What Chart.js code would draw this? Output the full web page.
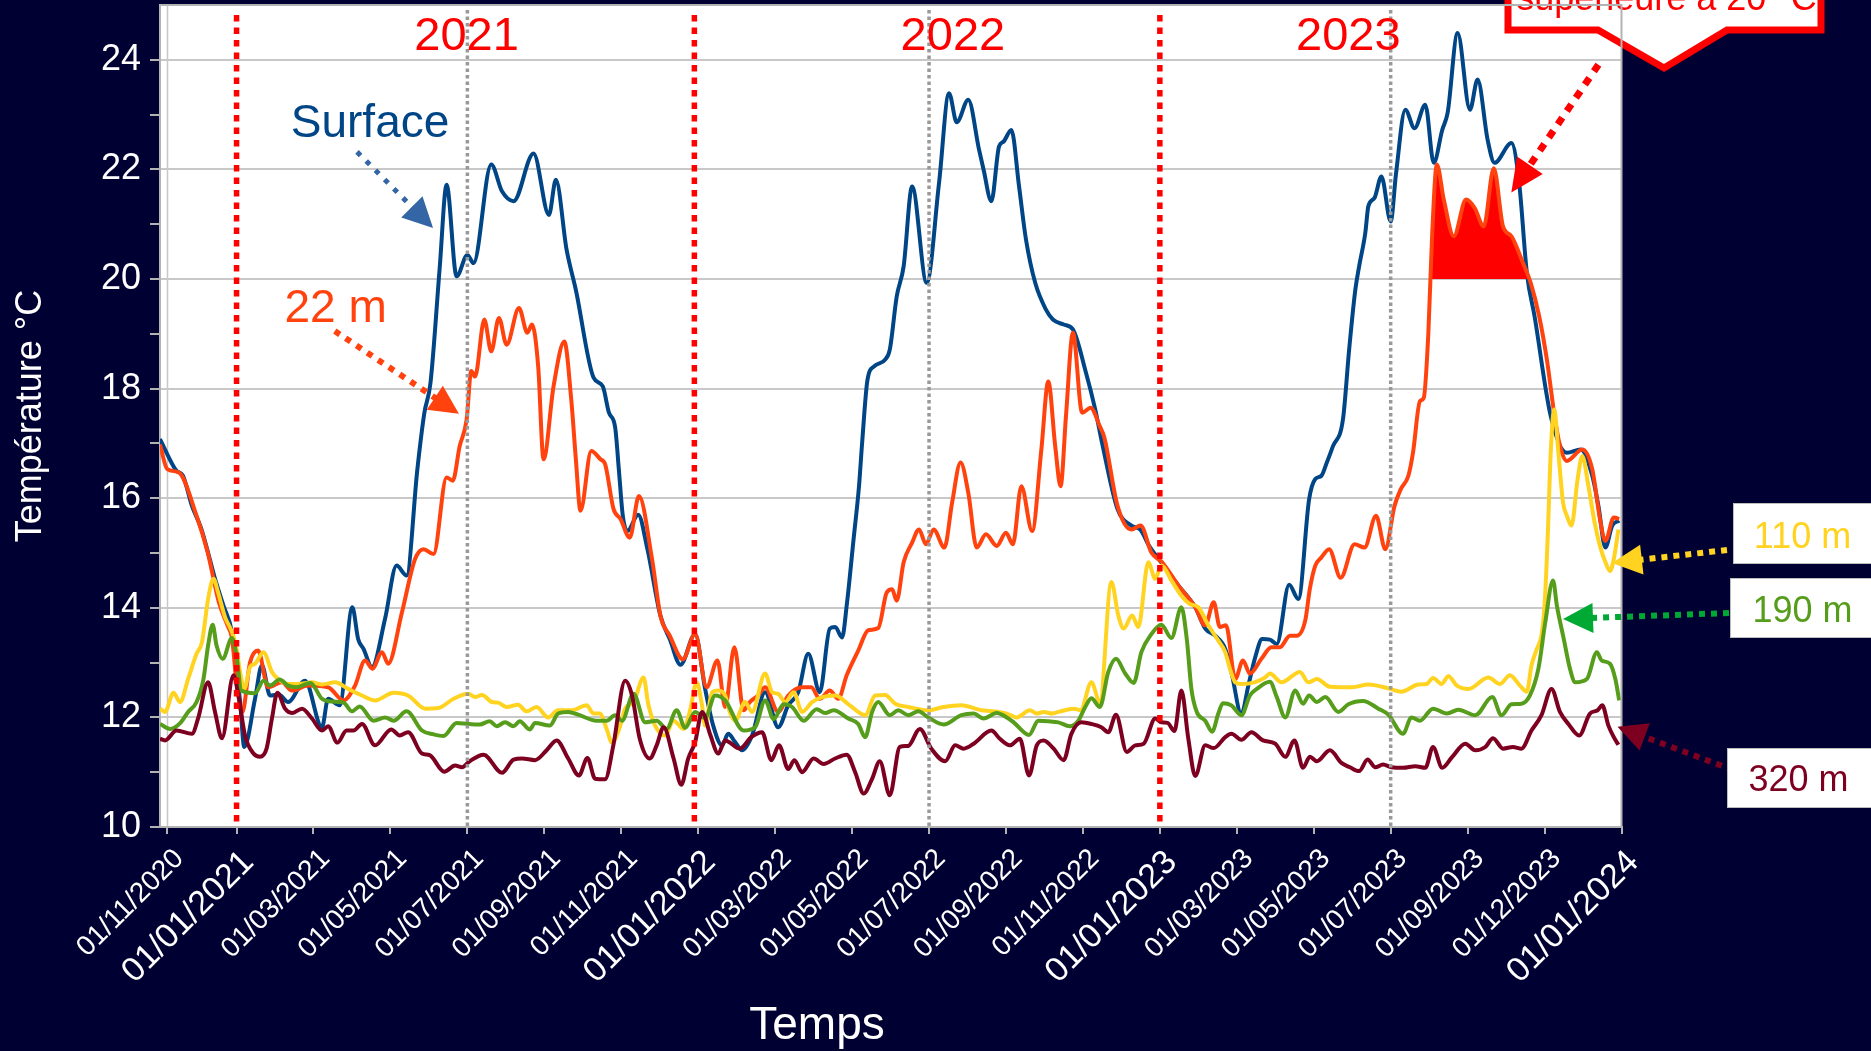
<!DOCTYPE html>
<html lang="fr">
<head>
<meta charset="utf-8">
<title>Température de l'eau de surface à 320 m</title>
<script src="https://cdn.jsdelivr.net/npm/chart.js@4.4.1/dist/chart.umd.min.js"></script>
<style>
  html, body { margin: 0; padding: 0; background: #000033; }
  #wrap { width: 1871px; height: 1051px; }
  canvas { display: block; }
</style>
</head>
<body>
<div id="wrap"><canvas id="chart" width="1871" height="1051"></canvas></div>
<script>
// Horizontal unit: 10 units between two consecutive date labels.
const tickPositions = [-9, 0, 10, 20, 30, 40, 50, 60, 70, 80, 90, 100, 110, 120, 130, 140, 150, 160, 170, 180];
const tickLabels = ['01/11/2020', '01/01/2021', '01/03/2021', '01/05/2021', '01/07/2021', '01/09/2021',
  '01/11/2021', '01/01/2022', '01/03/2022', '01/05/2022', '01/07/2022', '01/09/2022', '01/11/2022',
  '01/01/2023', '01/03/2023', '01/05/2023', '01/07/2023', '01/09/2023', '01/12/2023', '01/01/2024'];
const yTickValues = [10, 11, 12, 13, 14, 15, 16, 17, 18, 19, 20, 21, 22, 23, 24];

// New year (red) and 1st of July (grey) markers
const yearStarts = [0, 59.5, 120];
const midYears = [30, 90, 150];
const yearNames = ['2021', '2022', '2023'];
const yearNameX = [29.9, 93.1, 144.5];
const warmThreshold = 20;

// Temperatures (°C), pairs [position, value]
const surface = [[-9.95,17.08],[-9,16.8],[-7.8,16.5],[-7,16.42],[-5.8,15.86],[-4.6,15.45],[-3.5,14.9],[-2.9,14.58],
  [-1.7,14.04],[-0.6,13.55],[0.45,12.3],[1.0,11.46],[2.4,12.34],[3.3,12.95],[4.35,12.4],[5.5,12.42],[6.7,12.28],
  [8.9,12.67],[11.1,11.82],[11.9,12.34],[13.4,12.22],[15.05,14.01],[15.8,13.43],[16.5,13.25],[17.6,12.92],
  [19.3,13.8],[20.8,14.77],[22.1,14.59],[23.5,16.53],[24.4,17.55],[25.2,18.1],[26.4,20.2],[27.3,21.72],
  [28.6,20.05],[30,20.44],[30.8,20.29],[33.1,22.09],[34.5,21.6],[36,21.42],[38.6,22.29],[40.6,21.17],
  [41.5,21.81],[42.9,20.53],[44.1,19.8],[46.4,18.2],[47.6,18.04],[48.4,17.56],[49.2,17.3],[49.7,16.5],
  [50.2,15.68],[50.8,15.4],[52.2,15.7],[53.4,15.07],[55.1,13.85],[56.3,13.43],[57.7,12.96],[59.6,13.52],
  [60.9,12.52],[61.95,11.85],[63.1,11.49],[63.9,11.7],[64.8,11.55],[65.7,11.4],[67,11.67],[68.7,12.46],
  [70.4,11.82],[71.7,12.22],[73,12.46],[74.3,13.16],[75.8,12.46],[77.1,13.62],[77.8,13.65],[78.7,13.46],
  [79.3,14.04],[80.2,15.26],[80.9,16.22],[81.3,17.0],[82.0,18.16],[82.9,18.41],[84.3,18.53],[84.9,18.71],
  [85.8,19.68],[86.7,20.23],[87.8,21.69],[89.7,19.93],[91.3,21.75],[92.6,23.39],[93.6,22.86],[95.1,23.27],
  [96.5,22.36],[97.1,21.99],[98.1,21.42],[99.1,22.42],[99.7,22.51],[100.7,22.72],[101.7,21.69],[102.6,20.72],
  [103.8,19.93],[105.2,19.44],[106.1,19.26],[107.5,19.17],[108.7,19.08],[110.4,18.29],[111.6,17.62],
  [112.5,17.0],[114.5,15.8],[116.3,15.5],[117.5,15.42],[118.6,15.13],[120,14.86],[122.4,14.41],[124.6,14.01],
  [125.9,13.62],[127.2,13.49],[128.5,13.25],[129.3,12.83],[130.6,12.06],[131.5,12.58],[132.4,13.1],
  [133.3,13.43],[134.3,13.42],[135.2,13.34],[136.8,14.42],[138,14.16],[139.4,15.98],[140.2,16.35],[141,16.41],
  [141.7,16.65],[142.5,16.95],[143.8,17.44],[144.6,18.71],[145.4,19.8],[145.9,20.23],[146.7,20.84],
  [147.1,21.33],[147.9,21.48],[148.8,21.87],[150,21.05],[150.7,21.93],[151.9,23.09],[153.1,22.75],
  [154.5,23.18],[155.6,22.12],[156.7,22.72],[157.4,23.03],[158.7,24.49],[160.3,23.09],[161.3,23.64],
  [162.6,22.54],[163.5,22.12],[165.7,22.48],[166.7,21.75],[167.7,20.11],[168.7,19.32],[170.8,17.5],
  [172.9,16.83],[174.7,16.89],[176.2,16.41],[177,15.86],[177.9,15.1],[178.8,15.5],[179.7,15.59]];

const depth22 = [[-9.95,16.98],[-9,16.53],[-7.5,16.47],[-5.2,15.68],[-3.75,15.01],[-2.3,14.1],[-1.15,13.67],
  [-0.6,13.45],[0,12.64],[0.76,12.1],[1.75,13.0],[2.8,13.22],[4.1,12.55],[5.9,12.64],[7.2,12.49],[9.3,12.58],
  [11.9,12.55],[13.9,12.31],[15.4,12.58],[16.7,13.04],[17.65,12.89],[18.9,13.19],[19.7,12.98],[21.5,13.92],
  [23.2,14.89],[24.3,15.07],[25.6,14.98],[27.3,16.38],[28.1,16.32],[29,16.95],[29.9,17.43],[30.5,18.32],
  [31.0,18.22],[32.2,19.26],[33.1,18.68],[34.1,19.29],[35.1,18.8],[36.7,19.47],[37.8,19.02],[38.4,19.17],
  [39.2,18.41],[39.9,16.71],[41.2,18.04],[42.6,18.86],[43.5,17.8],[44.1,16.71],[44.7,15.77],[46.1,16.86],
  [47.3,16.71],[47.9,16.62],[49.0,15.8],[49.9,15.62],[51.1,15.28],[52.3,16.04],[54.0,14.89],[55.1,13.85],
  [56.3,13.49],[58.0,13.06],[59.6,13.52],[61.1,12.55],[62.5,13.04],[63.5,12.19],[64.7,13.28],[65.9,12.13],
  [66.7,12.28],[67.8,12.4],[68.7,12.55],[70.4,12.1],[71.7,12.4],[73.5,12.55],[74.7,12.55],[75.8,12.34],
  [77.1,12.49],[78.2,12.34],[79.3,12.77],[80.8,13.22],[82.1,13.59],[83.4,13.63],[84.5,14.28],[85.2,14.34],
  [85.8,14.13],[86.7,14.83],[87.8,15.19],[88.7,15.43],[89.6,15.16],[90.6,15.43],[92.0,15.1],[93.0,15.92],
  [94.1,16.65],[95.1,16.1],[96.2,15.1],[97.4,15.34],[98.8,15.13],[100,15.37],[100.9,15.16],[102,16.22],
  [103.4,15.4],[104.6,16.89],[105.5,18.13],[106.4,16.95],[107.1,16.22],[107.8,17.5],[108.7,19.02],
  [109.9,17.56],[111,17.65],[112.2,17.31],[112.8,17.1],[114.5,15.86],[116.3,15.43],[117.5,15.5],[118.9,15.01],
  [120.3,14.83],[122.4,14.41],[124.6,14.01],[125.9,13.68],[127.0,14.1],[127.8,13.65],[128.6,13.68],
  [129.8,12.7],[130.8,13.04],[131.7,12.8],[133.2,13.07],[134.5,13.28],[135.6,13.28],[136.9,13.49],
  [137.8,13.49],[138.9,13.77],[139.5,14.35],[140.2,14.77],[141,14.92],[142,15.07],[143.5,14.55],[145.3,15.16],
  [146.6,15.1],[148.1,15.68],[149.3,15.07],[150.5,15.86],[151.3,16.16],[152.3,16.41],[152.9,16.83],
  [153.8,17.77],[154.3,17.83],[154.9,19.02],[155.4,20.84],[156,22.09],[156.9,21.45],[158.2,20.78],
  [159.8,21.45],[160.9,21.3],[162.1,20.96],[163.4,22.02],[164.6,20.96],[165.7,20.78],[167.2,20.29],
  [168.2,19.93],[169.3,19.32],[170.3,18.53],[171.3,17.5],[171.9,17.02],[172.9,16.68],[174.9,16.89],
  [176.2,16.53],[177.2,15.62],[177.9,15.22],[179.0,15.65],[179.7,15.62]];

const depth110 = [[-9.95,12.16],[-9.3,12.1],[-8.2,12.45],[-7.35,12.28],[-6.3,12.7],[-5.2,13.16],[-4.5,13.37],
  [-3.7,14.16],[-3.0,14.53],[-2.4,14.28],[-1.5,13.83],[-0.6,13.56],[0,13.25],[0.45,12.83],[1.0,12.52],
  [1.75,12.92],[2.4,12.98],[3.5,13.19],[4.6,12.83],[5.4,12.7],[6.7,12.61],[8,12.61],[9.8,12.64],[11.1,12.6],
  [12.8,12.64],[14.5,12.52],[16.3,12.4],[18,12.31],[20.4,12.45],[22.3,12.4],[24.5,12.16],[26.2,12.17],
  [28.2,12.34],[30.1,12.43],[31,12.37],[31.9,12.41],[33.2,12.28],[34,12.27],[35.1,12.19],[36.6,12.23],
  [37.7,12.11],[39,12.19],[40.5,12.0],[41.8,12.13],[43.6,12.13],[45.5,12.22],[46.4,12.07],[47.2,12.07],
  [48.1,11.79],[48.8,11.54],[49.8,11.82],[50.5,12.16],[51.6,12.28],[52.9,12.73],[53.5,12.25],[54.4,11.85],
  [55.7,11.67],[56.8,11.94],[58.1,11.79],[58.9,12.1],[59.8,12.64],[60.5,12.22],[60.9,11.85],[61.8,12.46],
  [62.6,12.49],[63.5,12.4],[64.1,12.1],[64.8,11.94],[66.1,12.28],[67,12.1],[68.7,12.8],[69.6,12.46],
  [70.4,12.43],[71.3,12.28],[72.4,12.46],[73.5,12.1],[74.8,12.28],[76.1,12.37],[77.8,12.4],[79.7,12.22],
  [81.7,12.04],[83,12.4],[84.3,12.41],[85.6,12.25],[87.3,12.19],[89.9,12.13],[91.9,12.19],[94.2,12.22],
  [96.8,12.13],[98.6,12.11],[100.1,12.07],[101.4,12.0],[103.1,12.13],[104,12.07],[104.9,12.1],[106,12.07],
  [106.8,12.1],[108.8,12.16],[109.7,12.13],[111.1,12.64],[112.2,12.28],[113.7,14.47],[114.6,13.86],
  [115.3,13.62],[116.4,13.86],[117.2,13.65],[118.5,14.83],[119.4,14.53],[120.2,14.77],[121.5,14.5],
  [122.8,14.22],[123.9,14.07],[125,14.01],[126.3,13.68],[127.6,13.4],[128.5,13.19],[129.1,12.89],
  [129.8,12.64],[130.6,12.61],[132.3,12.64],[133.7,12.73],[134.3,12.8],[135.8,12.64],[138.2,12.83],
  [139.3,12.64],[140.4,12.7],[142.1,12.56],[145,12.55],[147.1,12.6],[149.7,12.53],[151.4,12.47],[153.6,12.6],
  [154.7,12.61],[155.5,12.72],[156.6,12.61],[157.5,12.75],[158.6,12.58],[160.1,12.52],[162.7,12.73],
  [164.2,12.61],[165.5,12.77],[166.8,12.58],[167.7,12.47],[168.3,12.95],[169,13.25],[169.6,13.5],[170,14.04],
  [170.4,15.26],[170.8,16.83],[171.25,17.62],[171.8,16.83],[172.4,15.92],[172.9,15.68],[173.5,15.5],
  [174.3,16.35],[174.9,16.77],[175.7,16.22],[176.5,15.56],[177.2,15.13],[178,14.8],[178.5,14.67],[179,14.89],
  [179.6,15.43]];

const depth190 = [[-9.95,11.88],[-8.6,11.79],[-7.3,11.9],[-6.3,12.1],[-5.2,12.28],[-4.3,12.7],[-3.7,13.31],
  [-3.1,13.69],[-2.6,13.31],[-1.8,13.07],[-0.6,13.45],[0,13.13],[0.6,12.49],[2.4,12.44],[3.5,12.67],
  [4.35,12.58],[5.6,12.69],[6.7,12.58],[7.8,12.55],[9.6,12.63],[11.1,12.34],[12.4,12.29],[13.9,12.27],
  [15,12.11],[16,12.2],[17.8,11.94],[19.3,12.0],[20.4,11.94],[22.1,12.11],[24.1,11.76],[25.6,11.69],
  [26.9,11.66],[28.6,11.9],[30.1,11.88],[31.6,11.87],[32.9,11.93],[33.8,11.84],[34.9,11.91],[36,11.84],
  [36.8,11.93],[38.1,11.78],[38.8,11.9],[40.7,11.85],[41.8,12.07],[43.1,12.1],[44.4,12.05],[46.8,11.94],
  [48.1,11.94],[49.2,12.04],[50.1,11.94],[51.6,12.43],[53.1,11.91],[54.6,11.94],[55.9,11.79],[57.2,12.13],
  [58.3,11.81],[59.6,12.1],[60.9,11.99],[62.2,12.4],[63.5,12.31],[65.9,11.76],[67.4,11.82],[68.7,12.31],
  [69.8,11.97],[71.1,12.24],[72.2,12.19],[73.7,11.94],[75.4,12.15],[76.5,12.08],[77.6,12.13],[79.5,11.98],
  [80.8,11.88],[81.7,11.64],[82.6,12.1],[83.4,12.28],[84.9,12.04],[86,12.13],[87.3,12.04],[88.6,12.11],
  [89.9,12.0],[91.9,11.87],[94.2,12.04],[95.8,12.07],[97.1,11.98],[98.8,12.08],[100.1,12.0],[101,11.91],
  [103,11.68],[104.2,11.94],[105.5,11.93],[106.8,11.91],[108.3,11.84],[109.4,11.94],[110.3,12.19],
  [111.1,12.35],[112.2,12.19],[113.3,12.83],[114.3,13.07],[115.5,12.8],[116.6,12.63],[117.6,13.19],
  [118.9,13.52],[120.2,13.69],[121.5,13.45],[122.8,14.01],[123.5,13.43],[124.1,12.52],[124.8,12.1],
  [125.9,11.94],[126.8,11.74],[127.6,12.07],[128.2,12.26],[129.3,12.22],[130.6,12.04],[131.7,12.4],
  [132.6,12.52],[134.3,12.65],[135.2,12.37],[136.3,12.0],[137.6,12.49],[138.6,12.25],[139.4,12.4],
  [140.4,12.28],[141.5,12.37],[143.2,12.1],[144.5,12.24],[146.4,12.3],[148.4,12.16],[149.7,12.05],
  [151.6,11.7],[152.7,12.0],[153.8,11.94],[155.5,12.16],[157.3,12.07],[158.8,12.14],[161,12.04],[163.2,12.37],
  [164.4,12.04],[165.7,12.24],[167,12.25],[168.1,12.4],[169.2,12.89],[170.1,13.74],[171.1,14.5],[171.6,14.04],
  [172.5,13.43],[173.3,12.89],[174,12.64],[175.5,12.7],[176.8,13.19],[177.4,13.04],[178.5,12.98],[179.2,12.7],
  [179.7,12.31]];

const depth320 = [[-9.95,11.61],[-9.3,11.58],[-7.8,11.76],[-5.8,11.7],[-5.0,11.98],[-3.7,12.64],[-2.8,12.1],
  [-1.9,11.62],[-0.4,12.77],[0.24,12.4],[1.1,11.67],[2.2,11.34],[3.05,11.28],[3.9,11.43],[4.6,11.98],
  [5.3,12.45],[6.3,12.16],[7.2,12.08],[8.5,12.16],[9.8,11.98],[11.1,11.76],[11.9,11.84],[13.1,11.54],
  [14.3,11.76],[15.2,11.76],[16.3,11.88],[18,11.49],[20.1,11.78],[21.2,11.67],[22.3,11.73],[24.1,11.34],
  [25.1,11.31],[27,11.01],[28.4,11.12],[29.3,11.09],[30.3,11.2],[32.1,11.32],[34.5,10.99],[36,11.23],
  [37.1,11.25],[38.8,11.22],[40.3,11.4],[41.6,11.58],[43.1,11.25],[44.5,10.94],[45.6,11.26],[46.6,10.88],
  [47.9,10.87],[48.97,11.49],[50.5,12.67],[51.4,12.4],[52.4,11.61],[53.7,11.25],[54.6,11.49],[55.5,11.82],
  [56.8,11.25],[57.8,10.77],[58.7,11.25],[59.6,11.55],[60.5,12.1],[61.6,11.67],[62.6,11.34],[63.5,11.58],
  [65.4,11.43],[66.9,11.64],[68.3,11.73],[69.5,11.22],[70.5,11.49],[71.7,11.06],[72.5,11.22],[73.5,11.0],
  [75,11.25],[76.3,11.15],[77.8,11.25],[79.3,11.32],[80.4,11.0],[81.5,10.61],[82.6,10.88],[83.6,11.2],
  [84.9,10.58],[86.2,11.46],[87.3,11.48],[88.8,11.79],[90.3,11.43],[92.1,11.2],[93.4,11.49],[94.5,11.43],
  [95.8,11.52],[98.1,11.76],[99.2,11.61],[100.5,11.49],[101.8,11.61],[103.0,10.94],[104,11.49],[104.9,11.58],
  [106.2,11.43],[107.5,11.22],[108.5,11.7],[109.8,11.91],[111.1,11.88],[112.4,11.82],[113.3,11.73],
  [114.3,12.05],[115.7,11.37],[116.8,11.49],[117.9,11.52],[119.4,11.98],[120.2,11.91],[121,11.9],
  [121.9,11.75],[122.8,12.49],[123.7,11.61],[124.6,10.93],[125.9,11.49],[127,11.44],[128.5,11.64],
  [129.3,11.7],[130.6,11.59],[131.9,11.73],[133.4,11.58],[135,11.52],[136.3,11.28],[137.5,11.58],
  [138.6,11.08],[139.5,11.28],[140.4,11.2],[142.1,11.4],[143.6,11.17],[144.7,11.09],[145.9,11.02],[147,11.23],
  [148,11.09],[149,11.14],[150.1,11.09],[151.6,11.08],[153.2,11.11],[154.5,11.08],[155.5,11.46],[156.7,11.08],
  [158,11.28],[159.7,11.52],[161,11.4],[162.3,11.46],[163.3,11.62],[164.6,11.43],[165.9,11.46],[167,11.43],
  [168.3,11.76],[169.6,12.04],[170.9,12.52],[172,12.1],[173.1,11.88],[174.5,11.67],[175.9,12.07],
  [176.9,12.13],[177.5,12.22],[178.3,11.85],[179,11.64],[179.6,11.5]];

const FONT = '"Liberation Sans", Arial, Helvetica, sans-serif';
const BG = '#000033';
const FRAME = '#b3b3b3';

function toPoints(pairs) { return pairs.map(p => ({ x: p[0], y: p[1] })); }

function dottedArrow(ctx, x0, y0, x1, y1, o) {
  const dx = x1 - x0, dy = y1 - y0, len = Math.hypot(dx, dy);
  const ux = dx / len, uy = dy / len;
  const bx = x1 - ux * o.head, by = y1 - uy * o.head;
  ctx.save();
  ctx.strokeStyle = o.color;
  ctx.lineWidth = o.width;
  ctx.lineCap = 'butt';
  ctx.setLineDash(o.dash);
  ctx.beginPath();
  ctx.moveTo(x0, y0);
  ctx.lineTo(bx + ux * 2, by + uy * 2);
  ctx.stroke();
  ctx.setLineDash([]);
  ctx.fillStyle = o.color;
  ctx.beginPath();
  ctx.moveTo(x1, y1);
  ctx.lineTo(bx - uy * o.half, by + ux * o.half);
  ctx.lineTo(bx + uy * o.half, by - ux * o.half);
  ctx.closePath();
  ctx.fill();
  ctx.restore();
}

function text(ctx, str, x, y, size, color, align) {
  ctx.save();
  ctx.font = size + 'px ' + FONT;
  ctx.fillStyle = color;
  ctx.textAlign = align || 'center';
  ctx.textBaseline = 'alphabetic';
  ctx.fillText(str, x, y);
  ctx.restore();
}

const decorations = {
  id: 'decorations',
  beforeDraw(chart) {
    const { ctx, chartArea: a } = chart;
    ctx.save();
    ctx.fillStyle = BG;
    ctx.fillRect(0, 0, chart.width, chart.height);
    ctx.fillStyle = '#ffffff';
    ctx.fillRect(a.left, a.top, a.right - a.left, a.bottom - a.top);
    // line at the first date label
    const xs = chart.scales.x;
    ctx.strokeStyle = '#c8c8c8';
    ctx.lineWidth = 1.5;
    ctx.beginPath();
    const x0 = Math.round(xs.getPixelForValue(tickPositions[0])) + 0.5;
    ctx.moveTo(x0, a.top);
    ctx.lineTo(x0, a.bottom);
    ctx.stroke();
    ctx.restore();
  },
  afterDatasetsDraw(chart) {
    const { ctx, chartArea: a, scales: { x: xs } } = chart;
    ctx.save();
    ctx.lineCap = 'butt';
    // 1st of July markers
    ctx.strokeStyle = '#999999';
    ctx.lineWidth = 3.5;
    ctx.setLineDash([3.5, 3]);
    midYears.forEach(v => {
      const px = xs.getPixelForValue(v);
      ctx.beginPath(); ctx.moveTo(px, a.top + 5); ctx.lineTo(px, a.bottom); ctx.stroke();
    });
    // New year markers
    ctx.strokeStyle = '#ff0000';
    ctx.lineWidth = 5.5;
    ctx.setLineDash([6.5, 6]);
    yearStarts.forEach(v => {
      const px = xs.getPixelForValue(v);
      ctx.beginPath(); ctx.moveTo(px, a.top + 10); ctx.lineTo(px, a.bottom); ctx.stroke();
    });
    ctx.restore();
  },
  afterDraw(chart) {
    const { ctx, chartArea: a, scales: { x: xs, y: ys } } = chart;
    const X = v => xs.getPixelForValue(v);
    const Y = v => ys.getPixelForValue(v);

    // years
    yearNames.forEach((n, i) => text(ctx, n, X(yearNameX[i]), Y(24.18), 47, '#ff0000'));

    // series names inside the plot
    text(ctx, 'Surface', X(17.35), Y(22.59), 46, '#004586');
    text(ctx, '22 m', X(12.87), Y(19.21), 46, '#ff420e');
    dottedArrow(ctx, X(15.66), Y(22.32), X(25.54), Y(20.93),
      { color: '#3465a4', width: 5, dash: [5, 8], head: 30, half: 15 });
    dottedArrow(ctx, X(12.77), Y(19.05), X(28.9), Y(17.54),
      { color: '#ff420e', width: 6, dash: [6, 7], head: 29, half: 14.5 });

    // callout for the area above 20 °C
    ctx.save();
    ctx.beginPath();
    ctx.moveTo(1508, -30);
    ctx.lineTo(1508, 30);
    ctx.lineTo(1598, 30);
    ctx.lineTo(1664, 68);
    ctx.lineTo(1727, 30);
    ctx.lineTo(1821, 30);
    ctx.lineTo(1821, -30);
    ctx.closePath();
    ctx.fillStyle = '#ffffff';
    ctx.fill();
    ctx.lineWidth = 7;
    ctx.lineJoin = 'miter';
    ctx.strokeStyle = '#ff0000';
    ctx.stroke();
    ctx.restore();
    text(ctx, 'supérieure à 20 °C', 1666.5, 10, 36, '#ff0000');
    dottedArrow(ctx, X(177.0), Y(23.91), X(165.68), Y(21.58),
      { color: '#ff0000', width: 7, dash: [8, 8], head: 33, half: 15.5 });

    // plot frame
    ctx.save();
    ctx.strokeStyle = FRAME;
    ctx.lineWidth = 2;
    ctx.beginPath();
    ctx.moveTo(a.left, a.top); ctx.lineTo(a.right, a.top); ctx.lineTo(a.right, a.bottom);
    ctx.stroke();
    ctx.restore();

    // depth labels on the right
    dottedArrow(ctx, 1727, 550, 1612, 563, { color: '#ffd320', width: 6, dash: [6, 6], head: 30, half: 15 });
    dottedArrow(ctx, 1729, 613, 1563, 619, { color: '#00a933', width: 6, dash: [6, 6], head: 30, half: 15 });
    dottedArrow(ctx, 1733, 770, 1617.5, 726.7, { color: '#7e0021', width: 6, dash: [6, 6], head: 29, half: 14.5 });
    const boxes = [
      { t: '110 m', c: '#ffd320', x: 1733, y: 503, h: 61, tx: 1802.5, ty: 548 },
      { t: '190 m', c: '#579d1c', x: 1730, y: 578, h: 60, tx: 1802.5, ty: 622 },
      { t: '320 m', c: '#7e0021', x: 1727, y: 748, h: 60, tx: 1798.5, ty: 791 }
    ];
    boxes.forEach(b => {
      ctx.save();
      ctx.fillStyle = '#ffffff';
      ctx.fillRect(b.x, b.y, chart.width - b.x, b.h);
      ctx.strokeStyle = '#bdbdbd';
      ctx.lineWidth = 1;
      ctx.strokeRect(b.x + 0.5, b.y + 0.5, chart.width - b.x, b.h - 1);
      ctx.restore();
      text(ctx, b.t, b.tx, b.ty, 36, b.c);
    });

    // axis titles
    ctx.save();
    ctx.translate(31, 416);
    ctx.rotate(-Math.PI / 2);
    ctx.font = '36px ' + FONT;
    ctx.fillStyle = '#ffffff';
    ctx.textAlign = 'center';
    ctx.textBaseline = 'middle';
    ctx.fillText('Température °C', 0, 0);
    ctx.restore();
    text(ctx, 'Temps', 817, 1039, 46, '#ffffff');
  }
};

const seriesDefs = [
  { label: 'Surface', data: surface, color: '#004586', order: 5 },
  { label: '22 m', data: depth22, color: '#ff420e', order: 4,
    fill: { target: { value: warmThreshold }, above: '#ff0000', below: 'rgba(0,0,0,0)' } },
  { label: '110 m', data: depth110, color: '#ffd320', order: 3 },
  { label: '190 m', data: depth190, color: '#579d1c', order: 2 },
  { label: '320 m', data: depth320, color: '#7e0021', order: 1 }
];

new Chart(document.getElementById('chart').getContext('2d'), {
  type: 'line',
  data: {
    datasets: seriesDefs.map(s => ({
      label: s.label,
      data: toPoints(s.data),
      borderColor: s.color,
      backgroundColor: s.color,
      borderWidth: 4,
      pointRadius: 0,
      cubicInterpolationMode: 'monotone',
      fill: s.fill || false,
      order: s.order
    }))
  },
  options: {
    responsive: false,
    animation: false,
    devicePixelRatio: 1,
    layout: { autoPadding: false, padding: { left: 0, top: 5, right: 249.5, bottom: 0 } },
    plugins: { legend: { display: false }, tooltip: { enabled: false }, title: { display: false } },
    scales: {
      x: {
        type: 'linear',
        min: -9.95,
        max: 180,
        afterBuildTicks: s => { s.ticks = tickPositions.map(v => ({ value: v })); },
        afterFit: s => { s.height = 224; s.paddingLeft = 0; s.paddingRight = 0; },
        ticks: {
          autoSkip: false,
          minRotation: 45,
          maxRotation: 45,
          color: '#ffffff',
          padding: 8.5,
          labelOffset: 12,
          font: c => ({ family: FONT, size: tickLabels[c.index] && tickLabels[c.index].startsWith('01/01') ? 34 : 28 }),
          callback: (v, i) => tickLabels[i]
        },
        grid: { drawOnChartArea: false, color: FRAME, tickLength: 7, lineWidth: 2 },
        border: { display: true, color: FRAME, width: 2 }
      },
      y: {
        min: 10,
        max: 25,
        afterBuildTicks: s => { s.ticks = yTickValues.map(v => ({ value: v })); },
        afterFit: s => { s.width = 160; s.paddingTop = 0; s.paddingBottom = 0; },
        ticks: {
          color: '#ffffff',
          padding: 9,
          font: { family: FONT, size: 36 },
          callback: v => (v % 2 === 0 ? String(v) : '')
        },
        grid: {
          color: c => (c.tick && c.tick.value % 2 === 0 && c.tick.value > 10) ? '#c8c8c8' : 'rgba(0,0,0,0)',
          tickColor: FRAME,
          tickLength: 10,
          lineWidth: 2
        },
        border: { display: true, color: FRAME, width: 2 }
      }
    }
  },
  plugins: [decorations]
});
</script>
</body>
</html>
